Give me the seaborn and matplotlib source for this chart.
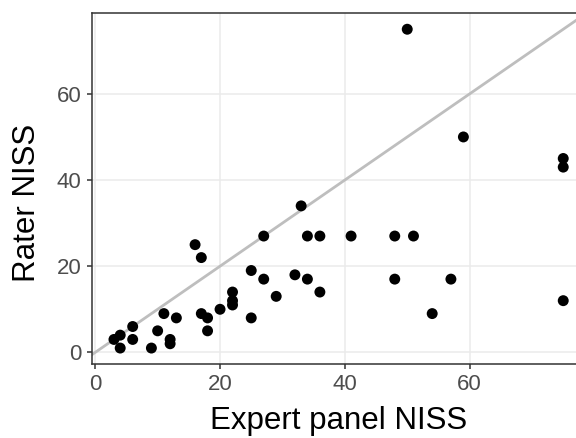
import pandas as pd
import matplotlib.pyplot as plt
import seaborn as sns

# Expert panel NISS vs rater NISS
expert = [50, 59, 75, 75, 75, 33, 27, 34, 36, 41, 48, 51, 16, 17, 25, 27, 32, 34, 36, 48,
          57, 54, 29, 22, 22, 22, 20, 25, 17, 18, 18, 11, 13, 10, 6, 6, 12, 12, 9, 4, 4, 3]
rater = [75, 50, 45, 43, 12, 34, 27, 27, 27, 27, 27, 27, 25, 22, 19, 17, 18, 17, 14, 17,
         17, 9, 13, 14, 12, 11, 10, 8, 9, 8, 5, 9, 8, 5, 6, 3, 3, 2, 1, 1, 4, 3]

data = pd.DataFrame({'Expert panel NISS': expert, 'Rater NISS': rater})

sns.set_style('white')
plt.rcParams['font.family'] = ['Liberation Sans', 'DejaVu Sans']

fig = plt.figure(figsize=(5.76, 4.38), dpi=100)
# panel runs past the right edge, as in the cropped reference
ax = fig.add_axes([91.5 / 576, 74 / 438, (585.7 - 91.5) / 576, (424.7 - 74) / 438])

xmin, xmax = min(expert), max(expert)
ymin, ymax = min(rater), max(rater)
xpad = 0.05 * (xmax - xmin)
ypad = 0.05 * (ymax - ymin)
ax.set_xlim(xmin - xpad, xmax + xpad)
ax.set_ylim(ymin - ypad, ymax + ypad)

ax.axline((0, 0), slope=1, color='#bebebe', linewidth=2, zorder=2)
sns.scatterplot(data=data, x='Expert panel NISS', y='Rater NISS', color='black',
                s=62, edgecolor='none', ax=ax, zorder=3)

ax.set_xticks([0, 20, 40, 60])
ax.set_yticks([0, 20, 40, 60])
ax.grid(True, color='#ebebeb', linewidth=1.1, zorder=0)
ax.set_axisbelow(True)
for side in ['left', 'top', 'bottom', 'right']:
    ax.spines[side].set_color('#333333')
    ax.spines[side].set_linewidth(1.1)
ax.tick_params(axis='both', length=3.4, width=1.1, color='#333333', labelcolor='#4d4d4d',
               labelsize=16, pad=4, bottom=True, left=True)
ax.set_xlabel('Expert panel NISS', fontsize=22.5, color='black', labelpad=8)
ax.set_ylabel('Rater NISS', fontsize=22.5, color='black')
ax.yaxis.set_label_coords(-0.10, 0.46)

plt.savefig('out.png', dpi=100)
